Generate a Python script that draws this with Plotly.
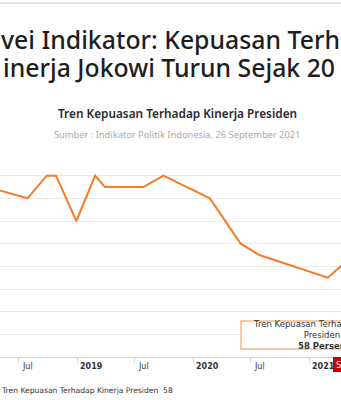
import plotly.graph_objects as go
from datetime import datetime, timedelta

# ---- data ----
dates = ["2018-03-02", "2018-07-29", "2018-09-28", "2018-10-27", "2018-12-30",
         "2019-02-27", "2019-03-30", "2019-07-29", "2019-09-30", "2020-02-23",
         "2020-05-30", "2020-07-28", "2021-02-28", "2021-04-10", "2021-06-25",
         "2021-09-26"]
values = [71.2, 70.0, 72.0, 72.0, 68.0,
          72.0, 71.0, 71.0, 72.0, 70.0,
          66.0, 65.0, 63.0, 64.0, 59.5,
          58.0]
series_name = "Tren Kepuasan Terhadap Kinerja Presiden"
tick_dates = ["2018-07-01", "2019-01-01", "2019-07-01", "2020-01-01", "2020-07-01", "2021-01-01"]
tick_labels = ["Jul", "2019", "Jul", "2020", "Jul", "2021"]
tick_bold = [False, True, False, True, False, True]
title_lines = ["vei Indikator: Kepuasan Terh", "inerja Jokowi Turun Sejak 20"]
subtitle = "Tren Kepuasan Terhadap Kinerja Presiden"
source = "Sumber : Indikator Politik Indonesia, 26 September 2021"
tooltip_lines = ["Tren Kepuasan Terhadap Kinerja", "Presiden"]
tooltip_value = "58 Persen"
crosshair_label = "S"
legend_value = "58"

W, H = 341, 400
PLOT_TOP, PLOT_BOT = 153, 357

# pixel geometry of the visible window of the x axis
origin = datetime(2019, 1, 1)
px_origin = 77.0
px_per_day = 116.0 / 365.0
def px_to_date(px):
    return origin + timedelta(days=(px - px_origin) / px_per_day)
xr = [px_to_date(0).isoformat(), px_to_date(W).isoformat()]

def yp(py):
    return (PLOT_BOT - py) / (PLOT_BOT - PLOT_TOP)
def xp(px):
    return px / W

ORANGE = "#F47C2C"
fig = go.Figure()
fig.add_trace(go.Scatter(x=dates, y=values, mode="lines", name=series_name,
                         line=dict(color=ORANGE, width=2), showlegend=False,
                         hoverinfo="skip"))

ann = []
title_font = dict(family="Noto Sans", size=24.8, color="#1e1e1e", weight=500)
ann.append(dict(text=title_lines[0], x=0, y=yp(39), xref="paper", yref="paper",
                xanchor="left", yanchor="middle", showarrow=False, font=title_font,
                borderpad=0))
ann.append(dict(text=title_lines[1], x=xp(2), y=yp(67), xref="paper", yref="paper",
                xanchor="left", yanchor="middle", showarrow=False, font=title_font,
                borderpad=0))
ann.append(dict(text=subtitle, x=xp(177.5), y=yp(112.5), xref="paper", yref="paper",
                xanchor="center", yanchor="middle", showarrow=False,
                font=dict(family="Noto Sans", size=11.8, color="#2a2a2a", weight=600)))
ann.append(dict(text=source, x=xp(177), y=yp(134), xref="paper", yref="paper",
                xanchor="center", yanchor="middle", showarrow=False,
                font=dict(family="Noto Sans", size=9.3, color="#aaaaaa")))

for d, lab, b in zip(tick_dates, tick_labels, tick_bold):
    ann.append(dict(text=f"<b>{lab}</b>" if b else lab, x=d, y=yp(366), xref="x", yref="paper",
                    xanchor="left", yanchor="middle", xshift=1, showarrow=False,
                    font=dict(family="DejaVu Sans", size=8, color="#333333")))

# tooltip
ann.append(dict(text="<br>".join(tooltip_lines) + f"<br><b>{tooltip_value}</b>",
                x=xp(321), y=yp(335), xref="paper", yref="paper", xanchor="center",
                yanchor="middle", align="center", showarrow=False,
                font=dict(family="DejaVu Sans", size=8.5, color="#333333")))
# crosshair label
ann.append(dict(text=crosshair_label, x=xp(334), y=yp(364.5), xref="paper", yref="paper",
                xanchor="left", yanchor="middle", showarrow=False,
                font=dict(family="DejaVu Sans", size=8.5, color="#ffffff")))
# legend
ann.append(dict(text=f"{series_name}  {legend_value}", x=xp(-1), y=yp(390), xref="paper",
                yref="paper", xanchor="left", yanchor="middle", showarrow=False,
                font=dict(family="DejaVu Sans", size=7.6, color="#333333")))

shapes = [
    dict(type="line", xref="paper", yref="paper", x0=0, x1=1, y0=yp(3), y1=yp(3),
         line=dict(color="#e6e6e6", width=2)),
    dict(type="rect", xref="paper", yref="paper", x0=xp(241), x1=xp(346), y0=yp(349), y1=yp(321),
         line=dict(color="#F7B98C", width=1.5), fillcolor="rgba(255,255,255,0.95)", layer="above"),
    dict(type="rect", xref="paper", yref="paper", x0=xp(333), x1=xp(350), y0=yp(372), y1=yp(357),
         line=dict(width=0), fillcolor="#cc0000", layer="above"),
]

fig.update_layout(
    width=W, height=H,
    margin=dict(l=0, r=0, t=PLOT_TOP, b=H - PLOT_BOT, pad=0),
    paper_bgcolor="white", plot_bgcolor="white",
    annotations=ann, shapes=shapes,
    xaxis=dict(type="date", range=xr, showgrid=False, showticklabels=False,
               tickvals=tick_dates, ticks="outside", ticklen=5, tickcolor="#ccd6eb",
               showline=True, linecolor="#ccd6eb", linewidth=1, zeroline=False,
               fixedrange=True),
    yaxis=dict(range=[56, 74], dtick=2, tick0=56, showgrid=True, gridcolor="#ebebeb",
               gridwidth=1, showticklabels=False, zeroline=False, fixedrange=True),
    showlegend=False,
)
fig.write_html("out.html")
